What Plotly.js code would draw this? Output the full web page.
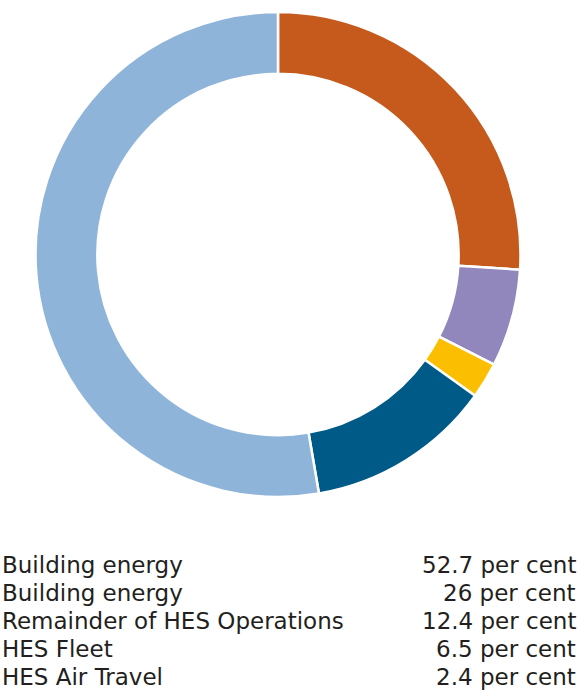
<!DOCTYPE html>
<html>
<head>
<meta charset="utf-8">
<script src="https://cdn.plot.ly/plotly-3.0.1.min.js"></script>
<style>html,body{margin:0;padding:0;background:#fff;overflow:hidden}#chart{width:582px;height:690px}</style>
</head>
<body>
<div id="chart"></div>
<script>
// Slices in drawing order (clockwise from 12 o'clock)
const sliceLabels = ["Building energy (26)", "HES Fleet", "HES Air Travel", "Remainder of HES Operations", "Building energy (52.7)"];
const sliceValues = [26, 6.5, 2.4, 12.4, 52.7];
const sliceColors = ["#C55A1C", "#9187BD", "#FBBE00", "#005A87", "#8FB4D9"];

// Legend rows
const legendNames = ["Building energy", "Building energy", "Remainder of HES Operations", "HES Fleet", "HES Air Travel"];
const legendValues = [52.7, 26, 12.4, 6.5, 2.4];

const W = 582, H = 690;
const font = {family: "DejaVu Sans, sans-serif", size: 23, color: "#231F20"};

const annotations = [];
legendNames.forEach((n, i) => {
  const yPix = 565 + i * 28;
  annotations.push({text: n, xref: "paper", yref: "paper", x: 0, y: 1 - yPix / H,
    xanchor: "left", yanchor: "middle", showarrow: false, font: font});
  annotations.push({text: legendValues[i] + " per cent", xref: "paper", yref: "paper", x: 578 / W, y: 1 - yPix / H,
    xanchor: "right", yanchor: "middle", showarrow: false, font: font});
});

Plotly.newPlot("chart", [{
  type: "pie",
  labels: sliceLabels,
  values: sliceValues,
  sort: false,
  direction: "clockwise",
  rotation: 0,
  hole: 0.745,
  marker: {colors: sliceColors, line: {color: "#ffffff", width: 2.5}},
  textinfo: "none",
  hoverinfo: "label+value",
  domain: {x: [35 / W, 521 / W], y: [(H - 497) / H, (H - 12) / H]}
}], {
  width: W, height: H,
  margin: {l: 0, r: 0, t: 0, b: 0},
  showlegend: false,
  paper_bgcolor: "#ffffff",
  annotations: annotations
}, {displayModeBar: false, staticPlot: true});
</script>
</body>
</html>
